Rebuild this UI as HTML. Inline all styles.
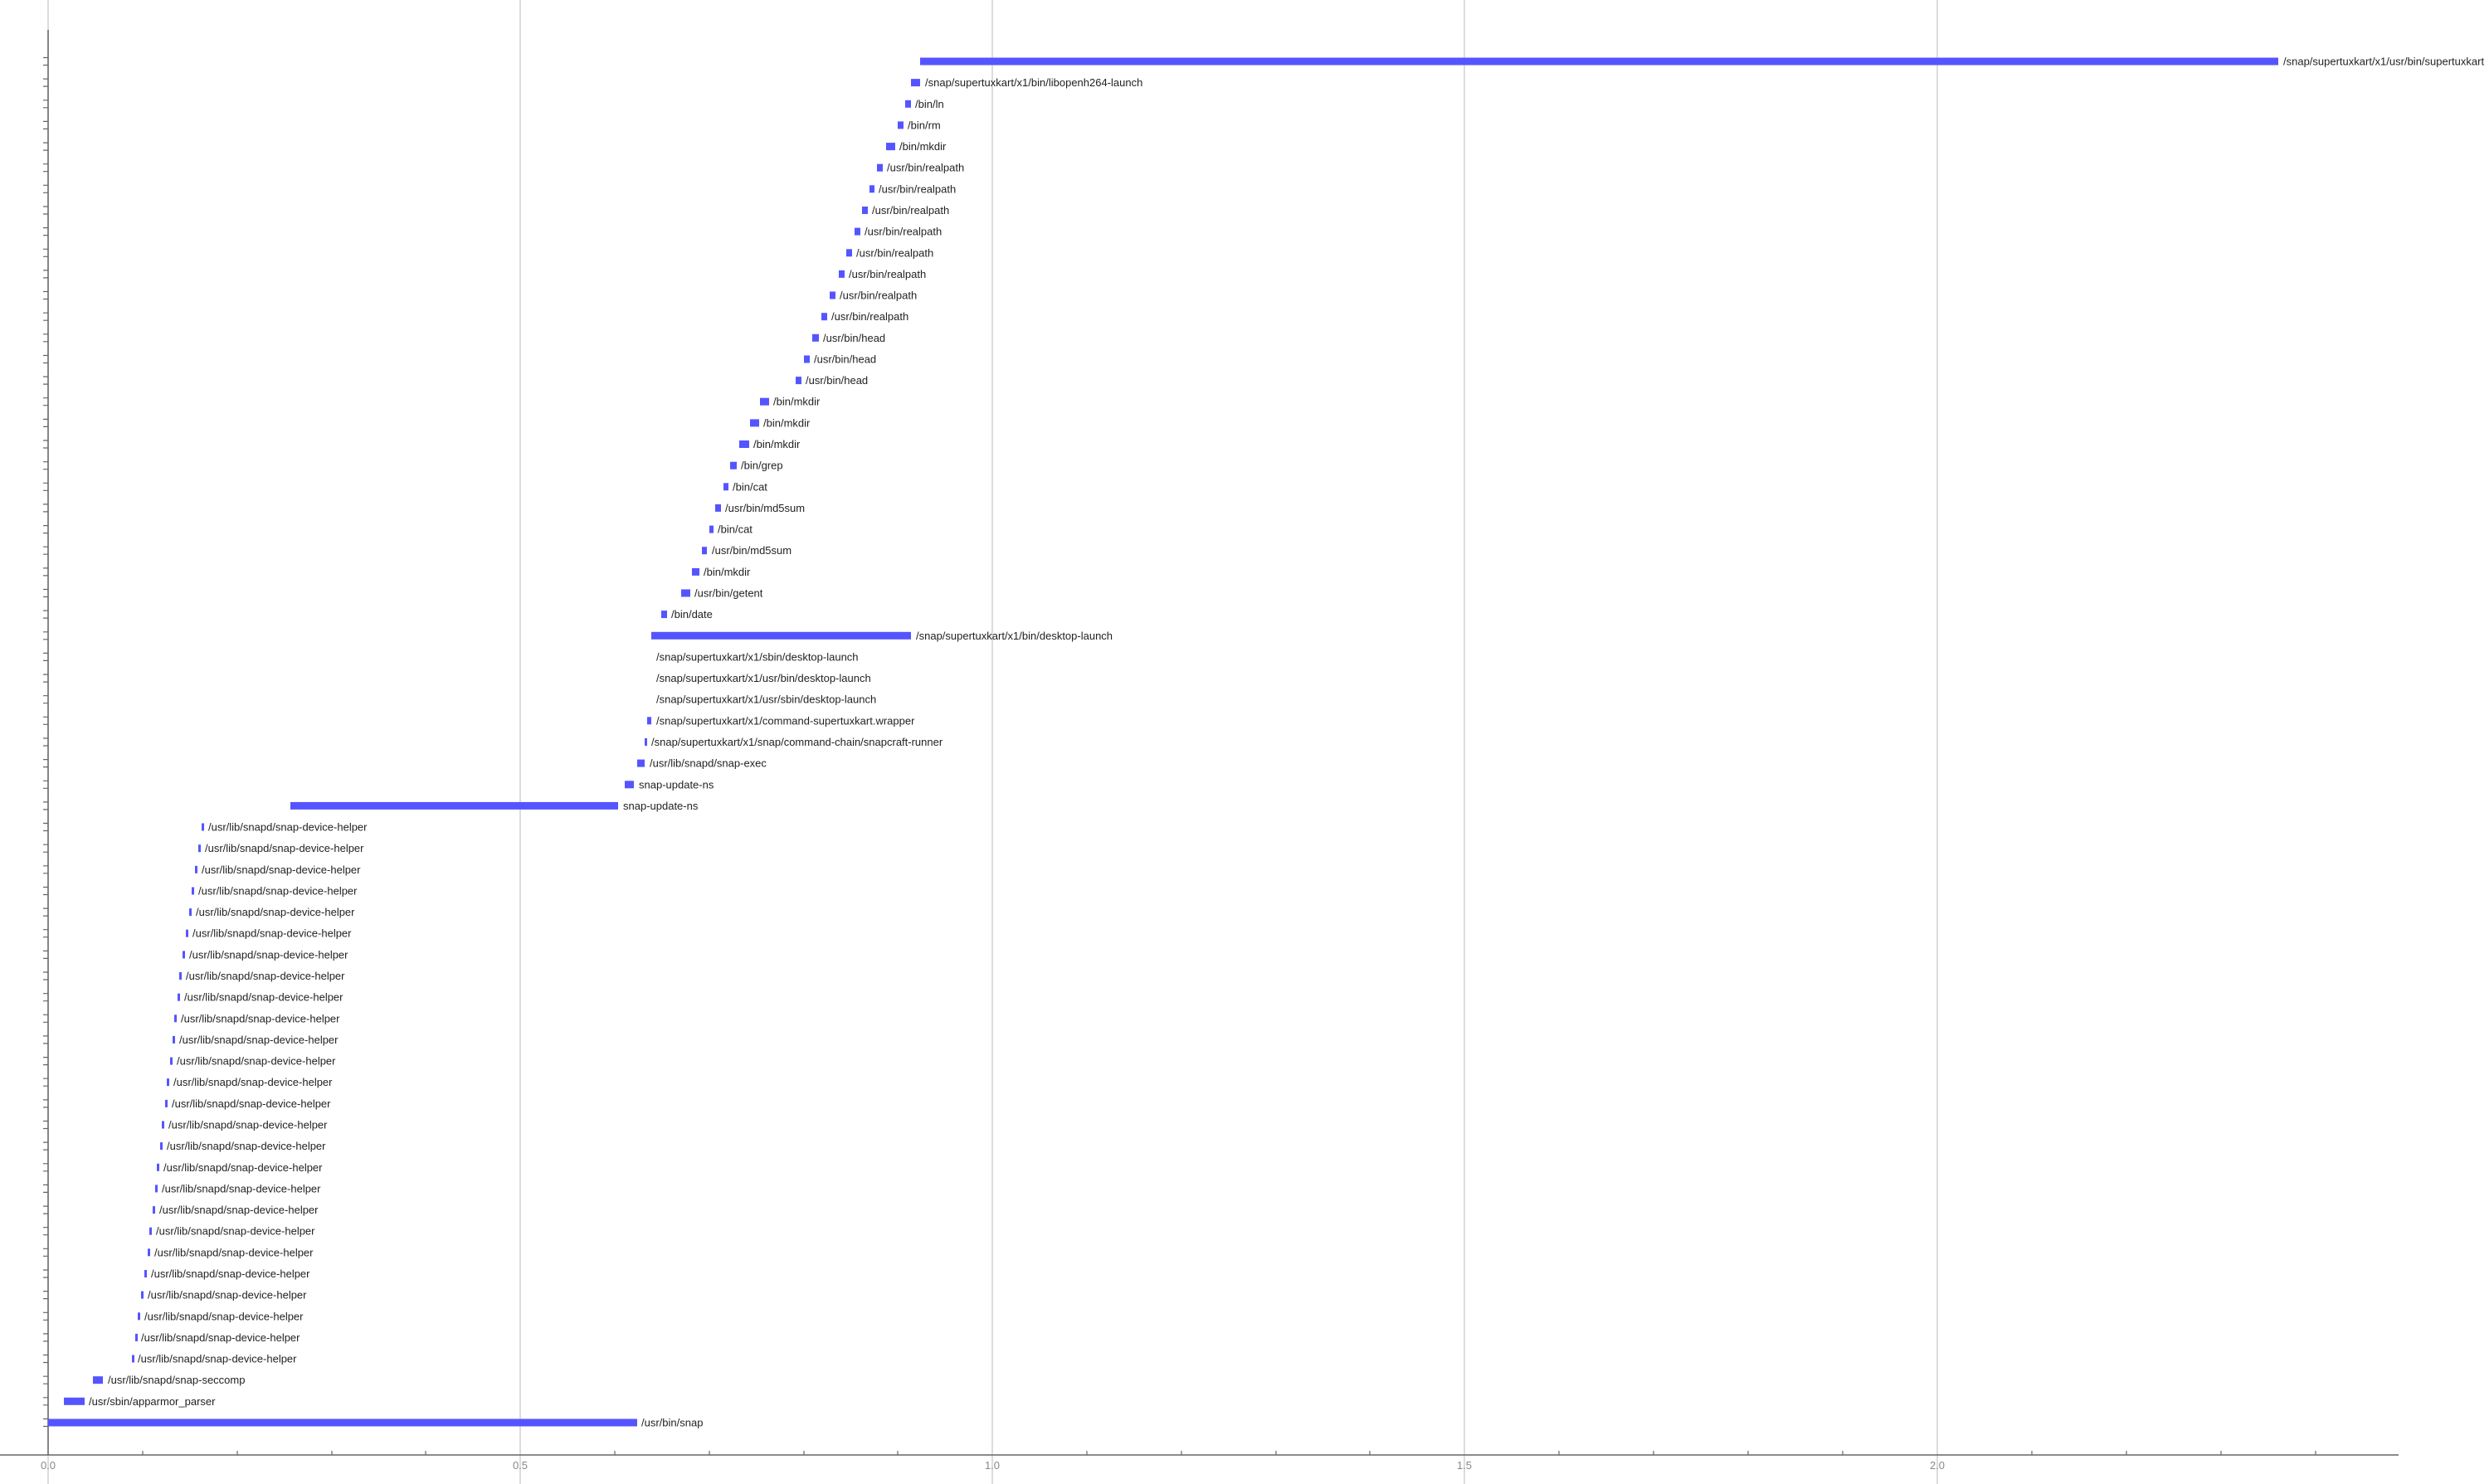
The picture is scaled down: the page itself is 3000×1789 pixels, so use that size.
<!DOCTYPE html>
<html><head><meta charset="utf-8"><style>
html,body{margin:0;padding:0;background:#fff;}
svg{display:block;}
text{font-family:"Liberation Sans",sans-serif;font-size:13px;fill:#222;}
.t{fill:#888;font-size:13px;}
</style></head><body>
<svg width="3000" height="1789" viewBox="0 0 3000 1789" xmlns="http://www.w3.org/2000/svg">
<g stroke="#d0d0d0" stroke-width="1.5">
<line x1="58" y1="0" x2="58" y2="1789"/>
<line x1="627" y1="0" x2="627" y2="1789"/>
<line x1="1196" y1="0" x2="1196" y2="1789"/>
<line x1="1765" y1="0" x2="1765" y2="1789"/>
<line x1="2335" y1="0" x2="2335" y2="1789"/>
</g>
<line x1="58" y1="36" x2="58" y2="1754" stroke="#666" stroke-width="1.5"/>
<line x1="0" y1="1754" x2="2891" y2="1754" stroke="#666" stroke-width="1.5"/>
<g stroke="#666" stroke-width="1.2">
<line x1="172" y1="1749" x2="172" y2="1754"/><line x1="286" y1="1749" x2="286" y2="1754"/><line x1="400" y1="1749" x2="400" y2="1754"/><line x1="513" y1="1749" x2="513" y2="1754"/>
<line x1="741" y1="1749" x2="741" y2="1754"/><line x1="855" y1="1749" x2="855" y2="1754"/><line x1="969" y1="1749" x2="969" y2="1754"/><line x1="1082" y1="1749" x2="1082" y2="1754"/>
<line x1="1310" y1="1749" x2="1310" y2="1754"/><line x1="1424" y1="1749" x2="1424" y2="1754"/><line x1="1538" y1="1749" x2="1538" y2="1754"/><line x1="1651" y1="1749" x2="1651" y2="1754"/>
<line x1="1879" y1="1749" x2="1879" y2="1754"/><line x1="1993" y1="1749" x2="1993" y2="1754"/><line x1="2107" y1="1749" x2="2107" y2="1754"/><line x1="2221" y1="1749" x2="2221" y2="1754"/>
<line x1="2449" y1="1749" x2="2449" y2="1754"/><line x1="2563" y1="1749" x2="2563" y2="1754"/><line x1="2677" y1="1749" x2="2677" y2="1754"/><line x1="2791" y1="1749" x2="2791" y2="1754"/>
</g>
<g class="t" text-anchor="middle">
<text class="t" x="58" y="1771">0.0</text><text class="t" x="627" y="1771">0.5</text><text class="t" x="1196" y="1771">1.0</text><text class="t" x="1765" y="1771">1.5</text><text class="t" x="2335" y="1771">2.0</text>
</g>
<path stroke="#666" stroke-width="1.2" fill="none" d="
M52 69.5H58M52 78.5H58 M52 95.1H58M52 104.1H58 M52 120.8H58M52 129.8H58 M52 146.4H58M52 155.4H58 M52 172.1H58M52 181.1H58
M52 197.7H58M52 206.7H58 M52 223.3H58M52 232.3H58 M52 249H58M52 258H58 M52 274.6H58M52 283.6H58 M52 300.3H58M52 309.3H58
M52 325.9H58M52 334.9H58 M52 351.5H58M52 360.5H58 M52 377.2H58M52 386.2H58 M52 402.8H58M52 411.8H58 M52 428.5H58M52 437.5H58
M52 454.1H58M52 463.1H58 M52 479.7H58M52 488.7H58 M52 505.4H58M52 514.4H58 M52 531H58M52 540H58 M52 556.7H58M52 565.7H58
M52 582.3H58M52 591.3H58 M52 607.9H58M52 616.9H58 M52 633.6H58M52 642.6H58 M52 659.2H58M52 668.2H58 M52 684.9H58M52 693.9H58
M52 710.5H58M52 719.5H58 M52 736.1H58M52 745.1H58 M52 761.8H58M52 770.8H58 M52 787.4H58M52 796.4H58 M52 813.1H58M52 822.1H58
M52 838.7H58M52 847.7H58 M52 864.3H58M52 873.3H58 M52 890H58M52 899H58 M52 915.6H58M52 924.6H58 M52 941.3H58M52 950.3H58
M52 966.9H58M52 975.9H58 M52 992.5H58M52 1001.5H58 M52 1018.2H58M52 1027.2H58 M52 1043.8H58M52 1052.8H58 M52 1069.5H58M52 1078.5H58
M52 1095.1H58M52 1104.1H58 M52 1120.7H58M52 1129.7H58 M52 1146.4H58M52 1155.4H58 M52 1172H58M52 1181H58 M52 1197.7H58M52 1206.7H58
M52 1223.3H58M52 1232.3H58 M52 1248.9H58M52 1257.9H58 M52 1274.6H58M52 1283.6H58 M52 1300.2H58M52 1309.2H58 M52 1325.9H58M52 1334.9H58
M52 1351.5H58M52 1360.5H58 M52 1377.1H58M52 1386.1H58 M52 1402.8H58M52 1411.8H58 M52 1428.4H58M52 1437.4H58 M52 1454.1H58M52 1463.1H58
M52 1479.7H58M52 1488.7H58 M52 1505.3H58M52 1514.3H58 M52 1531H58M52 1540H58 M52 1556.6H58M52 1565.6H58 M52 1582.3H58M52 1591.3H58
M52 1607.9H58M52 1616.9H58 M52 1633.5H58M52 1642.5H58 M52 1659.2H58M52 1668.2H58 M52 1684.8H58M52 1693.8H58 M52 1710.5H58M52 1719.5H58"/>
<g fill="#5555ff">
<rect x="1109" y="69.5" width="1637" height="9"/>
<rect x="1098" y="95.1" width="11" height="9"/>
<rect x="1091" y="120.8" width="7" height="9"/>
<rect x="1082" y="146.4" width="7" height="9"/>
<rect x="1068" y="172.1" width="11" height="9"/>
<rect x="1057" y="197.7" width="7" height="9"/>
<rect x="1048" y="223.3" width="6" height="9"/>
<rect x="1039" y="249" width="7" height="9"/>
<rect x="1030" y="274.6" width="7" height="9"/>
<rect x="1020" y="300.3" width="7" height="9"/>
<rect x="1011" y="325.9" width="7" height="9"/>
<rect x="1000" y="351.5" width="7" height="9"/>
<rect x="990" y="377.2" width="7" height="9"/>
<rect x="979" y="402.8" width="8" height="9"/>
<rect x="969" y="428.5" width="7" height="9"/>
<rect x="959" y="454.1" width="7" height="9"/>
<rect x="916" y="479.7" width="11" height="9"/>
<rect x="904" y="505.4" width="11" height="9"/>
<rect x="891" y="531" width="12" height="9"/>
<rect x="880" y="556.7" width="8" height="9"/>
<rect x="872" y="582.3" width="6" height="9"/>
<rect x="862" y="607.9" width="7" height="9"/>
<rect x="855" y="633.6" width="5" height="9"/>
<rect x="846" y="659.2" width="6" height="9"/>
<rect x="834" y="684.9" width="9" height="9"/>
<rect x="821" y="710.5" width="11" height="9"/>
<rect x="797" y="736.1" width="7" height="9"/>
<rect x="785" y="761.8" width="313" height="9"/>
<rect x="780" y="864.3" width="5" height="9"/>
<rect x="777" y="890" width="3" height="9"/>
<rect x="768" y="915.6" width="9" height="9"/>
<rect x="753" y="941.3" width="11" height="9"/>
<rect x="350" y="966.9" width="395" height="9"/>
<rect x="243" y="992.5" width="3" height="9"/><rect x="239" y="1018.2" width="3" height="9"/><rect x="235" y="1043.8" width="3" height="9"/><rect x="231" y="1069.5" width="3" height="9"/>
<rect x="228" y="1095.1" width="3" height="9"/><rect x="224" y="1120.7" width="3" height="9"/><rect x="220" y="1146.4" width="3" height="9"/><rect x="216" y="1172" width="3" height="9"/>
<rect x="214" y="1197.7" width="3" height="9"/><rect x="210" y="1223.3" width="3" height="9"/><rect x="208" y="1248.9" width="3" height="9"/><rect x="205" y="1274.6" width="3" height="9"/>
<rect x="201" y="1300.2" width="3" height="9"/><rect x="199" y="1325.9" width="3" height="9"/><rect x="195" y="1351.5" width="3" height="9"/><rect x="193" y="1377.1" width="3" height="9"/>
<rect x="189" y="1402.8" width="3" height="9"/><rect x="187" y="1428.4" width="3" height="9"/><rect x="184" y="1454.1" width="3" height="9"/><rect x="180" y="1479.7" width="3" height="9"/>
<rect x="178" y="1505.3" width="3" height="9"/><rect x="174" y="1531" width="3" height="9"/><rect x="170" y="1556.6" width="3" height="9"/><rect x="166" y="1582.3" width="3" height="9"/>
<rect x="163" y="1607.9" width="3" height="9"/><rect x="159" y="1633.5" width="3" height="9"/>
<rect x="112" y="1659.2" width="12" height="9"/>
<rect x="77" y="1684.8" width="25" height="9"/>
<rect x="58" y="1710.5" width="710" height="9"/>
</g>
<g dominant-baseline="central">
<text x="2752" y="74">/snap/supertuxkart/x1/usr/bin/supertuxkart</text>
<text x="1115" y="99.6">/snap/supertuxkart/x1/bin/libopenh264-launch</text>
<text x="1103" y="125.3">/bin/ln</text>
<text x="1094" y="150.9">/bin/rm</text>
<text x="1084" y="176.6">/bin/mkdir</text>
<text x="1069" y="202.2">/usr/bin/realpath</text>
<text x="1059" y="227.8">/usr/bin/realpath</text>
<text x="1051" y="253.5">/usr/bin/realpath</text>
<text x="1042" y="279.1">/usr/bin/realpath</text>
<text x="1032" y="304.8">/usr/bin/realpath</text>
<text x="1023" y="330.4">/usr/bin/realpath</text>
<text x="1012" y="356">/usr/bin/realpath</text>
<text x="1002" y="381.7">/usr/bin/realpath</text>
<text x="992" y="407.3">/usr/bin/head</text>
<text x="981" y="433">/usr/bin/head</text>
<text x="971" y="458.6">/usr/bin/head</text>
<text x="932" y="484.2">/bin/mkdir</text>
<text x="920" y="509.9">/bin/mkdir</text>
<text x="908" y="535.5">/bin/mkdir</text>
<text x="893" y="561.2">/bin/grep</text>
<text x="883" y="586.8">/bin/cat</text>
<text x="874" y="612.4">/usr/bin/md5sum</text>
<text x="865" y="638.1">/bin/cat</text>
<text x="858" y="663.7">/usr/bin/md5sum</text>
<text x="848" y="689.4">/bin/mkdir</text>
<text x="837" y="715">/usr/bin/getent</text>
<text x="809" y="740.6">/bin/date</text>
<text x="1104" y="766.3">/snap/supertuxkart/x1/bin/desktop-launch</text>
<text x="791" y="791.9">/snap/supertuxkart/x1/sbin/desktop-launch</text>
<text x="791" y="817.6">/snap/supertuxkart/x1/usr/bin/desktop-launch</text>
<text x="791" y="843.2">/snap/supertuxkart/x1/usr/sbin/desktop-launch</text>
<text x="791" y="868.8">/snap/supertuxkart/x1/command-supertuxkart.wrapper</text>
<text x="785" y="894.5">/snap/supertuxkart/x1/snap/command-chain/snapcraft-runner</text>
<text x="783" y="920.1">/usr/lib/snapd/snap-exec</text>
<text x="770" y="945.8">snap-update-ns</text>
<text x="751" y="971.4">snap-update-ns</text>
<text x="251" y="997">/usr/lib/snapd/snap-device-helper</text>
<text x="247" y="1022.7">/usr/lib/snapd/snap-device-helper</text>
<text x="243" y="1048.3">/usr/lib/snapd/snap-device-helper</text>
<text x="239" y="1074">/usr/lib/snapd/snap-device-helper</text>
<text x="236" y="1099.6">/usr/lib/snapd/snap-device-helper</text>
<text x="232" y="1125.2">/usr/lib/snapd/snap-device-helper</text>
<text x="228" y="1150.9">/usr/lib/snapd/snap-device-helper</text>
<text x="224" y="1176.5">/usr/lib/snapd/snap-device-helper</text>
<text x="222" y="1202.2">/usr/lib/snapd/snap-device-helper</text>
<text x="218" y="1227.8">/usr/lib/snapd/snap-device-helper</text>
<text x="216" y="1253.4">/usr/lib/snapd/snap-device-helper</text>
<text x="213" y="1279.1">/usr/lib/snapd/snap-device-helper</text>
<text x="209" y="1304.7">/usr/lib/snapd/snap-device-helper</text>
<text x="207" y="1330.4">/usr/lib/snapd/snap-device-helper</text>
<text x="203" y="1356">/usr/lib/snapd/snap-device-helper</text>
<text x="201" y="1381.6">/usr/lib/snapd/snap-device-helper</text>
<text x="197" y="1407.3">/usr/lib/snapd/snap-device-helper</text>
<text x="195" y="1432.9">/usr/lib/snapd/snap-device-helper</text>
<text x="192" y="1458.6">/usr/lib/snapd/snap-device-helper</text>
<text x="188" y="1484.2">/usr/lib/snapd/snap-device-helper</text>
<text x="186" y="1509.8">/usr/lib/snapd/snap-device-helper</text>
<text x="182" y="1535.5">/usr/lib/snapd/snap-device-helper</text>
<text x="178" y="1561.1">/usr/lib/snapd/snap-device-helper</text>
<text x="174" y="1586.8">/usr/lib/snapd/snap-device-helper</text>
<text x="170" y="1612.4">/usr/lib/snapd/snap-device-helper</text>
<text x="166" y="1638">/usr/lib/snapd/snap-device-helper</text>
<text x="130" y="1663.7">/usr/lib/snapd/snap-seccomp</text>
<text x="107" y="1689.3">/usr/sbin/apparmor_parser</text>
<text x="773" y="1715">/usr/bin/snap</text>
</g>
</svg>
</body></html>
